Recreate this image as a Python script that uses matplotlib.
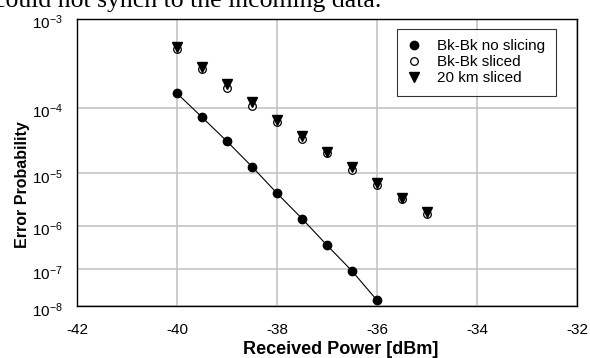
import numpy as np
import matplotlib
matplotlib.use("Agg")
import matplotlib.pyplot as plt
import matplotlib.transforms as mtransforms

plt.rcParams["font.family"] = ["Liberation Sans", "DejaVu Sans"]
plt.rcParams["mathtext.fontset"] = "custom"
plt.rcParams["mathtext.rm"] = "Liberation Sans"
plt.rcParams["mathtext.it"] = "Liberation Sans"

# received power [dBm]
power_nosl = [-40, -39.5, -39, -38.5, -38, -37.5, -37, -36.5, -36]
power_sl = [-40, -39.5, -39, -38.5, -38, -37.5, -37, -36.5, -36, -35.5, -35]

# error probabilities
ber_nosl = [1.53e-4, 7.4e-5, 3.3e-5, 1.3e-5, 4.4e-6, 1.4e-6, 3.7e-7, 8.9e-8, 1.46e-8]
ber_bkbk_sl = [5.0e-4, 3.0e-4, 1.78e-4, 1.05e-4, 6.35e-5, 3.6e-5, 2.15e-5,
               1.14e-5, 6.15e-6, 3.4e-6, 1.72e-6]
ber_20km_sl = [5.2e-4, 3.18e-4, 2.0e-4, 1.19e-4, 6.8e-5, 3.96e-5, 2.28e-5,
               1.3e-5, 6.7e-6, 3.6e-6, 1.9e-6]

yticks = [1e-3, 1e-4, 1e-5, 1e-6, 1e-7, 1e-8]
ytick_labels = ["$10^{-3}$", "$10^{-4}$", "$10^{-5}$", "$10^{-6}$", "$10^{-7}$", "$10^{-8}$"]
xticks = [-42, -40, -38, -36, -34, -32]


# probability paper type scale
def fwd(p):
    p = np.clip(np.asarray(p, dtype=float), 1e-300, 0.2)
    return -np.log10(np.clip(-np.log10(p) - 0.6, 1e-9, None))


def inv(v):
    return 10.0 ** (-(10.0 ** (-np.asarray(v, dtype=float)) + 0.6))


fig = plt.figure(figsize=(5.9, 3.58), dpi=100)
ax = fig.add_axes([77 / 590, 1 - 306 / 358, 500 / 590, 287.3 / 358])
ax.set_yscale("function", functions=(fwd, inv))

ax.plot(power_nosl, ber_nosl, "-", color="black", lw=0.8)
ax.plot(power_nosl, ber_nosl, "o", ms=6, mfc="black", mec="black",
        label="Bk-Bk no slicing")
ax.plot(power_sl, ber_bkbk_sl, "o", ms=5.5, mfc="white", mec="black", mew=0.9,
        label="Bk-Bk sliced")
ax.plot(power_sl, ber_20km_sl, "v", ms=6.5, mfc="black", mec="black",
        label="20 km sliced")

ax.set_xlim(-42, -32)
ax.set_ylim(1e-8, 1e-3)
ax.set_xticks(xticks)
ax.set_xticklabels([str(t) for t in xticks])
ax.set_yticks(yticks)
ax.set_yticklabels(ytick_labels)
ax.minorticks_off()
ax.tick_params(axis="both", length=0)
ax.tick_params(axis="x", pad=12, labelsize=11)
ax.tick_params(axis="y", pad=10, labelsize=11)
ax.grid(True, color="#c0c0c0", lw=1.1)
ax.set_axisbelow(True)
for s in ax.spines.values():
    s.set_linewidth(1.0)
    s.set_color("black")

off = mtransforms.ScaledTranslation(0, -2 / 72, fig.dpi_scale_trans)
for lbl in ax.get_yticklabels():
    lbl.set_transform(lbl.get_transform() + off)

leg = ax.legend(loc="upper right", bbox_to_anchor=(0.958, 0.965), fontsize=11,
                frameon=True, fancybox=False, edgecolor="black",
                handlelength=0.8, handletextpad=1.1, borderpad=0.7,
                labelspacing=0.12, borderaxespad=0)
leg.get_frame().set_linewidth(0.8)

fig.text(23 / 590, 1 - 185 / 358, "Error Probability", rotation=90,
         ha="center", va="center", fontsize=11.5, fontweight="bold")
fig.text(341 / 590, 1 - 350 / 358, "Received Power [dBm]",
         ha="center", va="center", fontsize=13, fontweight="bold")

fig.text(-6 / 590, 1 - 7 / 358, "could not synch to the incoming data.",
         ha="left", va="baseline", fontsize=18.5, family="Liberation Serif")

fig.savefig("out.png", dpi=100)
